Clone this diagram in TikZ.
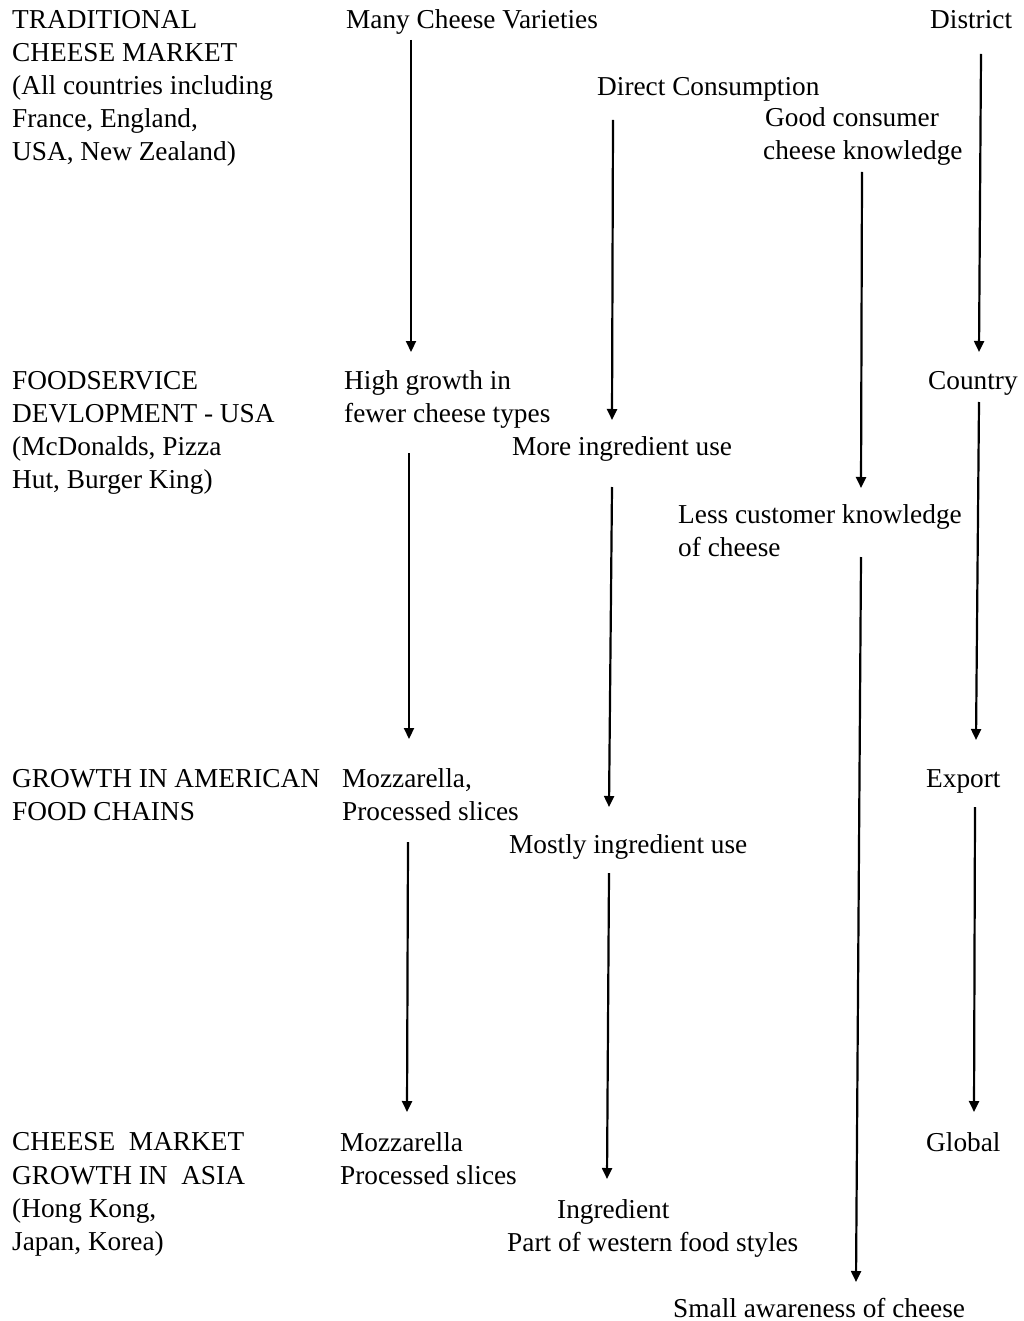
\documentclass[tikz,border=0pt]{standalone}
\usepackage{fontspec}
\setmainfont{Liberation Serif}
\usetikzlibrary{arrows.meta}
\begin{document}
\begin{tikzpicture}[x=1pt,y=-1pt,
  txt/.style={anchor=base west,inner sep=0pt,font=\fontsize{27.3}{33}\selectfont},
  arr/.style={line width=2.2pt,-{Triangle[length=11pt,width=10pt]}}]
\useasboundingbox (0,0) rectangle (1023,1321);
% left column
\node[txt] (t1) at (12,29) {TRADITIONAL};
\node[txt] (t2) at (12,62) {CHEESE MARKET};
\node[txt] (t3) at (12,95) {(All countries including};
\node[txt] (t4) at (12,128) {France, England,};
\node[txt] (t5) at (12,161) {USA, New Zealand)};
\node[txt] (f1) at (12,389) {FOODSERVICE};
\node[txt] (f2) at (12,422) {DEVLOPMENT - USA};
\node[txt] (f3) at (12,455) {(McDonalds, Pizza};
\node[txt] (f4) at (12,488) {Hut, Burger King)};
\node[txt] (g1) at (12,787) {GROWTH IN AMERICAN};
\node[txt] (g2) at (12,820) {FOOD CHAINS};
\node[txt] (h1) at (12,1150) {CHEESE\ \ MARKET};
\node[txt] (h2) at (12,1184) {GROWTH IN\ \ ASIA};
\node[txt] (h3) at (12,1217) {(Hong Kong,};
\node[txt] (h4) at (12,1250) {Japan, Korea)};
% column 2
\node[txt] (v1) at (346,29) {Many Cheese Varieties};
\node[txt] (v2a) at (344,389) {High growth in};
\node[txt] (v2b) at (344,422) {fewer cheese types};
\node[txt] (v3a) at (342,787) {Mozzarella,};
\node[txt] (v3b) at (342,820) {Processed slices};
\node[txt] (v4a) at (340,1151) {Mozzarella};
\node[txt] (v4b) at (340,1184) {Processed slices};
% column 3
\node[txt] (u1) at (597,96) {Direct Consumption};
\node[txt] (u2) at (512,455) {More ingredient use};
\node[txt] (u3) at (509,853) {Mostly ingredient use};
\node[txt] (u4a) at (557,1218) {Ingredient};
\node[txt] (u4b) at (507,1251) {Part of western food styles};
% column 4
\node[txt] (k1a) at (765,127) {Good consumer};
\node[txt] (k1b) at (763,160) {cheese knowledge};
\node[txt] (k2a) at (678,523) {Less customer knowledge};
\node[txt] (k2b) at (678,556) {of cheese};
\node[txt] (k3) at (673,1317) {Small awareness of cheese};
% column 5
\node[txt] (d1) at (930,29) {District};
\node[txt] (d2) at (928,389) {Country};
\node[txt] (d3) at (926,787) {Export};
\node[txt] (d4) at (926,1151) {Global};
% arrow end points
\coordinate (a1s) at (411,40);   \coordinate (a1e) at (411,352);
\coordinate (a2s) at (409,453);  \coordinate (a2e) at (409,739);
\coordinate (a3s) at (408,842);  \coordinate (a3e) at (407,1112);
\coordinate (b1s) at (613,120);  \coordinate (b1e) at (612,420);
\coordinate (b2s) at (612,487);  \coordinate (b2e) at (609,807);
\coordinate (b3s) at (609,873);  \coordinate (b3e) at (607,1179);
\coordinate (c1s) at (862,172);  \coordinate (c1e) at (861,488);
\coordinate (c2s) at (861,557);  \coordinate (c2e) at (856,1282);
\coordinate (e1s) at (981,54);   \coordinate (e1e) at (979,352);
\coordinate (e2s) at (979,402);  \coordinate (e2e) at (976,740);
\coordinate (e3s) at (975,807);  \coordinate (e3e) at (974,1112);
\draw[arr] (a1s) -- (a1e);
\draw[arr] (a2s) -- (a2e);
\draw[arr] (a3s) -- (a3e);
\draw[arr] (b1s) -- (b1e);
\draw[arr] (b2s) -- (b2e);
\draw[arr] (b3s) -- (b3e);
\draw[arr] (c1s) -- (c1e);
\draw[arr] (c2s) -- (c2e);
\draw[arr] (e1s) -- (e1e);
\draw[arr] (e2s) -- (e2e);
\draw[arr] (e3s) -- (e3e);
\end{tikzpicture}
\end{document}
